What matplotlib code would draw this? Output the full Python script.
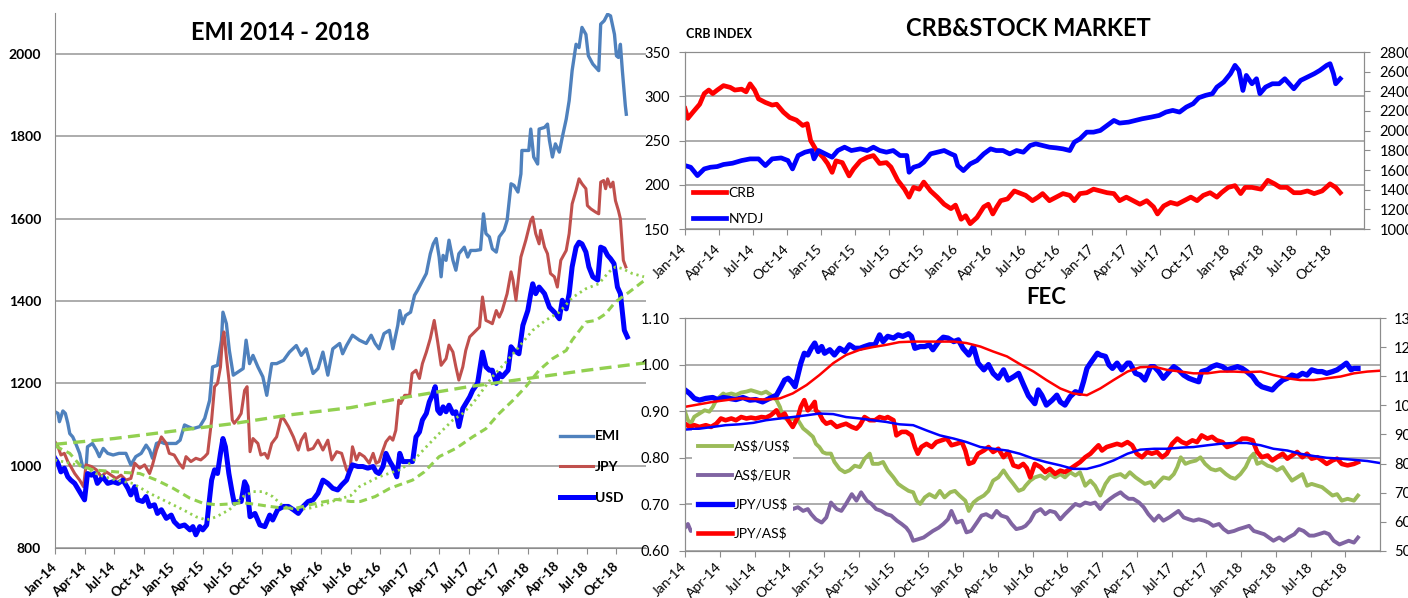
import matplotlib.pyplot as plt
from matplotlib.patches import Rectangle

plt.rcParams['font.family'] = ['Lato', 'DejaVu Sans']

# x values are months counted from Jan-14
tick_months = [0, 3, 6, 9, 12, 15, 18, 21, 24, 27, 30, 33, 36, 39, 42, 45, 48, 51, 54, 57]
tick_labels = ['Jan-14', 'Apr-14', 'Jul-14', 'Oct-14', 'Jan-15', 'Apr-15', 'Jul-15', 'Oct-15',
               'Jan-16', 'Apr-16', 'Jul-16', 'Oct-16', 'Jan-17', 'Apr-17', 'Jul-17', 'Oct-17',
               'Jan-18', 'Apr-18', 'Jul-18', 'Oct-18']

# ---- EMI 2014 - 2018 ----
emi = [(0, 1131), (0.3, 1127), (0.45, 1107), (0.8, 1133), (1.05, 1127), (1.3, 1103), (1.5, 1078),
       (1.8, 1070), (2.1, 1054), (2.5, 1030), (2.8, 998), (3.15, 994), (3.3, 1046), (3.8, 1054),
       (4.2, 1038), (4.5, 1022), (4.9, 1042), (5.35, 1030), (5.9, 1026), (6.5, 1030), (7.2, 1030),
       (7.7, 1002), (8.2, 1022), (8.75, 1030), (9.25, 1050), (9.6, 1038), (9.9, 1018), (10.3, 1054),
       (10.7, 1058), (11.1, 1054), (11.6, 1054), (12.3, 1054), (12.7, 1062), (13.15, 1099),
       (13.5, 1095), (14, 1090), (14.7, 1095), (15.2, 1115), (15.7, 1159), (16, 1240), (16.5, 1244),
       (16.9, 1305), (17.05, 1373), (17.4, 1345), (17.7, 1280), (18.1, 1220), (18.6, 1228),
       (19.1, 1236), (19.4, 1305), (19.75, 1248), (20.1, 1268), (20.6, 1240), (21.1, 1216),
       (21.5, 1171), (22, 1248), (22.5, 1248), (23.2, 1256), (23.8, 1276), (24.5, 1292), (25, 1268),
       (25.5, 1284), (26.2, 1224), (26.7, 1236), (27.2, 1276), (27.7, 1220), (28.2, 1284),
       (28.9, 1297), (29.2, 1272), (29.6, 1292), (30.2, 1317), (30.9, 1305), (31.6, 1297),
       (32.1, 1317), (32.5, 1297), (32.9, 1284), (33.4, 1321), (33.95, 1329), (34.3, 1284),
       (34.8, 1341), (35, 1377), (35.3, 1345), (35.6, 1365), (36.1, 1373), (36.5, 1414),
       (36.8, 1426), (37.15, 1442), (37.7, 1467), (38.1, 1515), (38.4, 1539), (38.7, 1552),
       (39, 1507), (39.2, 1459), (39.4, 1511), (39.7, 1499), (40, 1548), (40.4, 1499), (40.7, 1475),
       (41, 1515), (41.55, 1531), (41.9, 1507), (42.2, 1523), (42.7, 1523), (43.2, 1525),
       (43.5, 1612), (43.75, 1564), (44.1, 1556), (44.4, 1527), (44.8, 1519), (45.1, 1556),
       (45.6, 1572), (45.9, 1596), (46.3, 1685), (46.6, 1681), (47, 1665), (47.3, 1709),
       (47.4, 1766), (48.1, 1766), (48.3, 1818), (48.6, 1750), (49, 1733), (49.15, 1818),
       (49.7, 1822), (50, 1830), (50.2, 1790), (50.5, 1750), (50.8, 1782), (51.2, 1762),
       (51.5, 1798), (51.9, 1842), (52.2, 1887), (52.5, 1960), (52.9, 2024), (53.2, 2016),
       (53.5, 2065), (53.9, 2048), (54.15, 1996), (54.6, 1976), (55.2, 1960), (55.4, 2073),
       (55.75, 2081), (56.1, 2097), (56.4, 2093), (56.8, 2048), (57, 1996), (57.2, 1992),
       (57.4, 2024), (57.6, 1960), (57.9, 1875), (58, 1854)]

jpy = [(0, 1058), (0.3, 1046), (0.6, 1026), (0.95, 1030), (1.3, 1010), (1.6, 998), (2, 981),
       (2.5, 965), (2.9, 949), (3.15, 1002), (3.7, 998), (4.2, 990), (4.7, 973), (5.2, 985),
       (5.7, 977), (6.2, 969), (6.7, 977), (7.2, 965), (7.7, 969), (8.1, 1006), (8.6, 994),
       (9.1, 1002), (9.6, 981), (9.9, 1002), (10.3, 1038), (10.8, 1070), (11.3, 1054), (11.6, 1030),
       (12.1, 1026), (12.6, 1006), (13, 994), (13.3, 1022), (13.8, 1010), (14.3, 1018), (14.8, 1014),
       (15.2, 1022), (15.5, 1030), (15.9, 1111), (16.2, 1192), (16.5, 1200), (16.8, 1240),
       (17, 1309), (17.15, 1325), (17.4, 1264), (17.7, 1200), (18, 1111), (18.2, 1103),
       (18.6, 1115), (18.9, 1127), (19.25, 1183), (19.5, 1192), (19.8, 1034), (20.1, 1066),
       (20.6, 1054), (20.9, 1026), (21.3, 1030), (21.6, 1018), (22, 1054), (22.5, 1070), (23, 1119),
       (23.3, 1111), (23.7, 1095), (24.2, 1070), (24.7, 1038), (25, 1062), (25.4, 1078),
       (25.7, 1038), (26.2, 1042), (26.7, 1062), (27.2, 1038), (27.7, 1062), (28.1, 1014),
       (28.6, 1034), (29.1, 1030), (29.6, 990), (29.9, 981), (30.2, 1046), (30.6, 1014),
       (30.9, 1030), (31.4, 1022), (31.9, 1006), (32.3, 1030), (32.6, 1006), (32.9, 1010),
       (33.3, 1038), (33.6, 1058), (34, 1070), (34.3, 1062), (34.6, 1086), (34.9, 1159),
       (35.1, 1151), (35.5, 1171), (36, 1171), (36.25, 1224), (36.65, 1232), (37, 1212),
       (37.3, 1248), (37.7, 1276), (38.1, 1309), (38.5, 1353), (38.85, 1301), (39.2, 1244),
       (39.7, 1260), (40, 1293), (40.4, 1276), (40.7, 1240), (41, 1208), (41.4, 1240), (41.7, 1280),
       (42.1, 1313), (42.6, 1325), (43.1, 1337), (43.4, 1410), (43.75, 1353), (44.1, 1349),
       (44.4, 1345), (44.8, 1377), (45.1, 1361), (45.4, 1377), (45.9, 1418), (46.3, 1471),
       (46.5, 1451), (46.8, 1402), (47.3, 1507), (47.8, 1548), (48.3, 1596), (48.5, 1604),
       (48.8, 1564), (49.15, 1539), (49.3, 1572), (49.7, 1531), (50, 1515), (50.3, 1467),
       (50.7, 1459), (51, 1434), (51.35, 1499), (51.9, 1523), (52.2, 1564), (52.5, 1636),
       (52.9, 1669), (53.2, 1697), (53.5, 1685), (53.9, 1673), (54.05, 1632), (54.4, 1624),
       (54.9, 1616), (55.2, 1612), (55.4, 1689), (55.7, 1693), (55.9, 1673), (56.1, 1697),
       (56.4, 1677), (56.65, 1689), (56.9, 1644), (57.2, 1620), (57.4, 1600), (57.7, 1499),
       (57.95, 1483)]

usd = [(0, 1018), (0.3, 1006), (0.6, 985), (0.95, 994), (1.3, 973), (1.6, 965), (2, 957),
       (2.3, 945), (2.6, 933), (3, 917), (3.3, 981), (3.7, 977), (4, 981), (4.3, 957), (4.85, 973),
       (5.35, 957), (5.9, 961), (6.4, 957), (6.9, 965), (7.4, 945), (7.7, 929), (8.1, 949),
       (8.4, 917), (8.9, 913), (9.25, 925), (9.6, 901), (10.1, 905), (10.4, 884), (10.8, 893),
       (11.3, 872), (11.8, 880), (12.1, 864), (12.6, 852), (13.15, 856), (13.7, 844), (14, 852),
       (14.3, 832), (14.7, 852), (15, 844), (15.4, 856), (15.6, 901), (15.9, 965), (16.2, 990),
       (16.5, 981), (16.8, 1030), (17.05, 1066), (17.3, 1046), (17.65, 981), (18, 933), (18.2, 909),
       (18.6, 913), (18.9, 913), (19.25, 961), (19.5, 949), (19.8, 876), (20.3, 884), (20.8, 856),
       (21.3, 852), (21.8, 880), (22.1, 868), (22.6, 893), (23.2, 901), (23.7, 901), (24.2, 893),
       (24.7, 884), (25.2, 901), (25.7, 913), (26.2, 917), (26.7, 933), (27.2, 965), (27.7, 957),
       (28.2, 945), (28.7, 941), (29.1, 953), (29.6, 965), (29.9, 985), (30.2, 1002),
       (30.75, 998), (31.25, 998), (31.75, 994), (32.3, 998), (32.6, 985), (32.9, 981),
       (33.3, 998), (33.6, 1030), (34, 1010), (34.3, 998), (34.7, 973), (35, 1030), (35.3, 1010),
       (35.8, 1010), (36.3, 1010), (36.65, 1070), (37, 1082), (37.3, 1111), (37.7, 1127),
       (38, 1155), (38.3, 1171), (38.6, 1192), (38.85, 1135), (39.1, 1127), (39.4, 1143),
       (39.7, 1131), (40, 1147), (40.4, 1127), (40.7, 1131), (41, 1095), (41.4, 1139),
       (41.7, 1151), (42.1, 1167), (42.4, 1183), (42.9, 1200), (43.4, 1276), (43.75, 1240),
       (44.1, 1232), (44.4, 1232), (44.8, 1200), (45.1, 1224), (45.4, 1216), (46, 1232),
       (46.3, 1289), (46.6, 1280), (47.1, 1272), (47.5, 1341), (48, 1377), (48.3, 1418),
       (48.5, 1442), (48.8, 1418), (49.15, 1434), (49.7, 1418), (50.2, 1385), (50.7, 1373),
       (51.2, 1357), (51.5, 1402), (51.9, 1381), (52.2, 1418), (52.5, 1483), (52.9, 1531),
       (53.2, 1543), (53.5, 1539), (53.9, 1519), (54.2, 1483), (54.6, 1459), (55.1, 1451),
       (55.4, 1531), (55.75, 1527), (56.1, 1511), (56.4, 1503), (56.75, 1491), (57.1, 1434),
       (57.4, 1418), (57.8, 1329), (58.1, 1313)]

trend_long = [(0, 1052), (6, 1066), (12, 1084), (18, 1102), (24, 1124), (30, 1141), (36, 1168),
              (42, 1192), (48, 1212), (54, 1232), (60, 1250)]

trend_dash = [(0, 1048), (1.5, 1030), (2.5, 1002), (3.8, 990), (6.2, 985), (8.6, 981),
              (10.3, 965), (12, 945), (13.7, 921), (15, 909), (16.4, 905), (17.7, 907), (19.1, 910),
              (20.4, 906), (21.8, 901), (23.2, 897), (24.5, 897), (25.9, 905), (27.2, 912),
              (28.6, 918), (30, 913), (31, 913), (32.5, 925), (34, 945), (36.3, 965), (37.5, 985),
              (39, 1022), (40.7, 1042), (42.4, 1070), (43.75, 1090), (45.1, 1127), (46.5, 1159),
              (47.8, 1192), (49.15, 1232), (50.5, 1260), (51.9, 1280), (52.5, 1305), (53.9, 1349),
              (54.9, 1353), (55.9, 1369), (56.9, 1398), (58.3, 1422), (59.6, 1446), (60, 1452)]

trend_dot = [(0, 1014), (1.5, 1006), (2.8, 998), (4.5, 977), (6.2, 965), (7.9, 957), (9.6, 933),
             (11.3, 913), (13, 893), (14.3, 876), (15.4, 868), (16.4, 876), (17.7, 893), (19.1, 925),
             (20.1, 937), (21.1, 937), (22.1, 925), (23.2, 901), (24.5, 893), (25.9, 897),
             (27.2, 905), (28.6, 917), (30, 927), (30.9, 949), (32.9, 973), (35, 990), (36.3, 1010),
             (37.7, 1046), (39, 1078), (40.4, 1111), (41.4, 1127), (42.4, 1151), (43.4, 1183),
             (44.4, 1216), (45.8, 1252), (47.1, 1289), (48.5, 1329), (49.8, 1353), (51.2, 1373),
             (52.5, 1408), (53.9, 1430), (55.2, 1442), (56.25, 1471), (56.9, 1483), (57.6, 1479),
             (58.6, 1467), (59.8, 1459)]

# ---- CRB & STOCK MARKET ----
crb = [(0, 286), (0.25, 275), (0.7, 282), (1.3, 291), (1.7, 303), (2.1, 307), (2.45, 303),
       (2.85, 307), (3.4, 312), (4, 310), (4.4, 307), (5, 308), (5.4, 305), (5.75, 314), (6.15, 307),
       (6.5, 297), (7.1, 293), (7.7, 290), (8.1, 291), (8.7, 282), (9.25, 276), (9.85, 273),
       (10.4, 267), (10.8, 269), (11.1, 250), (11.6, 239), (12.2, 231), (12.6, 224), (13, 214),
       (13.35, 227), (13.9, 225), (14.5, 210), (14.9, 218), (15.5, 227), (16.1, 231), (16.65, 233),
       (17.2, 224), (17.8, 225), (18.2, 220), (18.8, 205), (19.4, 195), (19.8, 186), (20.2, 197),
       (20.7, 195), (21.1, 203), (21.7, 193), (22.3, 186), (22.9, 178), (23.5, 173), (23.9, 177),
       (24.4, 161), (24.8, 165), (25.2, 156), (25.8, 163), (26.4, 175), (26.8, 178), (27.2, 167),
       (27.55, 175), (27.9, 182), (28.5, 184), (29.1, 193), (29.5, 191), (30.1, 188), (30.7, 182),
       (31.2, 186), (31.6, 190), (32.2, 182), (32.8, 186), (33.4, 190), (34, 188), (34.4, 182),
       (34.9, 190), (35.5, 191), (36.1, 195), (36.7, 193), (37.3, 191), (37.9, 190), (38.4, 182),
       (39, 186), (39.6, 182), (40.2, 178), (40.8, 182), (41.4, 175), (41.75, 167), (42.3, 176),
       (42.9, 180), (43.5, 178), (44.1, 182), (44.7, 186), (45.25, 182), (45.8, 188), (46.4, 191),
       (47, 186), (47.4, 191), (48, 197), (48.6, 199), (49.1, 190), (49.5, 197), (50.1, 197),
       (50.9, 195), (51.5, 205), (52.1, 201), (52.6, 197), (53.2, 197), (53.8, 191), (54.4, 191),
       (55, 193), (55.6, 190), (56.3, 193), (57, 201), (57.5, 197), (57.9, 191)]

nydj = [(0, 1645), (0.5, 1628), (1.1, 1543), (1.7, 1611), (2.25, 1628), (2.85, 1635), (3.4, 1656),
        (4.2, 1669), (5, 1696), (5.75, 1713), (6.5, 1713), (7.1, 1645), (7.7, 1713), (8.5, 1723),
        (9.1, 1696), (9.5, 1611), (10, 1747), (10.6, 1781), (11.2, 1798), (11.4, 1713),
        (11.8, 1798), (12.4, 1764), (13, 1730), (13.5, 1798), (14.1, 1832), (14.7, 1798),
        (15.5, 1815), (16.1, 1798), (16.65, 1832), (17.2, 1798), (17.8, 1781), (18.4, 1798),
        (19, 1747), (19.6, 1747), (19.8, 1577), (20.2, 1628), (20.7, 1645), (21.1, 1679),
        (21.7, 1764), (22.3, 1781), (22.9, 1798), (23.5, 1764), (23.85, 1747), (24.1, 1645),
        (24.6, 1594), (25.2, 1662), (25.8, 1696), (26.4, 1764), (27, 1815), (27.5, 1798),
        (28.1, 1798), (28.7, 1764), (29.3, 1798), (29.9, 1781), (30.5, 1849), (31, 1866),
        (31.6, 1849), (32.2, 1832), (32.8, 1825), (33.4, 1815), (34, 1798), (34.4, 1883),
        (34.9, 1917), (35.5, 1985), (36.1, 1985), (36.7, 2002), (37.3, 2053), (37.9, 2104),
        (38.4, 2077), (39.2, 2087), (39.8, 2104), (40.4, 2121), (41.2, 2138), (41.9, 2155),
        (42.5, 2189), (43.1, 2206), (43.7, 2189), (44.3, 2240), (44.9, 2274), (45.4, 2335),
        (46, 2359), (46.6, 2376), (47, 2443), (47.6, 2494), (48.2, 2579), (48.6, 2664),
        (48.95, 2613), (49.3, 2409), (49.6, 2562), (50.1, 2477), (50.5, 2528), (50.8, 2376),
        (51.3, 2443), (51.9, 2477), (52.5, 2477), (53, 2528), (53.4, 2477), (53.8, 2426),
        (54.4, 2511), (55, 2545), (55.6, 2579), (56.1, 2613), (56.7, 2664), (57, 2681),
        (57.3, 2579), (57.5, 2477), (57.9, 2528)]

# ---- FEC ----
aud_usd = [(0, 0.899), (0.25, 0.881), (0.5, 0.873), (0.8, 0.888), (1.25, 0.895), (1.7, 0.902),
           (2.1, 0.899), (2.4, 0.909), (2.7, 0.924), (3, 0.931), (3.3, 0.938), (3.5, 0.935),
           (4, 0.938), (4.4, 0.935), (4.85, 0.94), (5.3, 0.942), (5.7, 0.945), (6.1, 0.942),
           (6.6, 0.938), (7, 0.942), (7.4, 0.935), (7.9, 0.924), (8.2, 0.909), (8.45, 0.888),
           (8.9, 0.881), (9.3, 0.884), (9.75, 0.881), (10.2, 0.863), (10.6, 0.855), (11.05, 0.845),
           (11.3, 0.83), (11.6, 0.823), (11.9, 0.812), (12.2, 0.809), (12.6, 0.809), (12.9, 0.791),
           (13.35, 0.776), (13.8, 0.769), (14.2, 0.773), (14.65, 0.783), (15.1, 0.78), (15.5, 0.798),
           (15.95, 0.809), (16.2, 0.787), (16.7, 0.787), (17.1, 0.791), (17.5, 0.773), (18, 0.758),
           (18.4, 0.744), (18.8, 0.737), (19.3, 0.729), (19.7, 0.726), (20, 0.708), (20.3, 0.701),
           (20.7, 0.715), (21.1, 0.722), (21.6, 0.715), (22, 0.729), (22.4, 0.715), (22.9, 0.726),
           (23.3, 0.729), (23.7, 0.719), (24.2, 0.708), (24.5, 0.686), (24.9, 0.704), (25.3, 0.712),
           (25.8, 0.719), (26.2, 0.729), (26.6, 0.751), (27.05, 0.758), (27.5, 0.773), (27.9, 0.758),
           (28.35, 0.744), (28.8, 0.729), (29.2, 0.733), (29.4, 0.74), (29.8, 0.751), (30.2, 0.758),
           (30.7, 0.762), (31.1, 0.755), (31.5, 0.765), (31.95, 0.758), (32.4, 0.765), (32.8, 0.758),
           (33.25, 0.769), (33.7, 0.762), (34.1, 0.769), (34.55, 0.74), (35, 0.751), (35.4, 0.74),
           (35.85, 0.719), (36.3, 0.744), (36.7, 0.758), (37.1, 0.762), (37.6, 0.765), (38, 0.758),
           (38.4, 0.769), (38.9, 0.758), (39.3, 0.751), (39.7, 0.744), (40.2, 0.748), (40.5, 0.737),
           (40.9, 0.748), (41.3, 0.758), (41.8, 0.755), (42.2, 0.765), (42.5, 0.78), (42.8, 0.801),
           (43.2, 0.787), (43.6, 0.791), (44.1, 0.794), (44.5, 0.801), (44.9, 0.787), (45.4, 0.776),
           (45.8, 0.773), (46.2, 0.776), (46.7, 0.765), (47.1, 0.758), (47.5, 0.755), (47.95, 0.765),
           (48.4, 0.78), (48.8, 0.801), (49.1, 0.809), (49.4, 0.787), (49.8, 0.791), (50.3, 0.783),
           (50.7, 0.78), (51.1, 0.773), (51.6, 0.78), (52, 0.765), (52.4, 0.751), (52.85, 0.758),
           (53.3, 0.765), (53.7, 0.74), (54.1, 0.744), (54.6, 0.74), (55, 0.737), (55.4, 0.729),
           (55.9, 0.719), (56.3, 0.722), (56.7, 0.708), (57.2, 0.712), (57.75, 0.708), (58.1, 0.719)]

aud_eur = [(0, 0.65), (0.25, 0.658), (0.5, 0.643), (2, 0.66), (4, 0.68), (6, 0.69), (8, 0.69),
           (9.3, 0.69), (9.75, 0.694), (10.2, 0.686), (10.6, 0.69), (10.9, 0.679), (11.3, 0.668),
           (11.8, 0.661), (12.2, 0.672), (12.6, 0.704), (13.1, 0.69), (13.5, 0.686), (13.9, 0.701),
           (14.4, 0.722), (14.8, 0.708), (15.2, 0.726), (15.7, 0.708), (16.1, 0.701), (16.5, 0.69),
           (16.95, 0.686), (17.4, 0.679), (17.8, 0.676), (18.3, 0.665), (18.7, 0.658), (19.1, 0.65),
           (19.4, 0.64), (19.7, 0.622), (20.1, 0.625), (20.6, 0.629), (21, 0.636), (21.4, 0.643),
           (21.9, 0.65), (22.3, 0.658), (22.7, 0.668), (23, 0.686), (23.45, 0.661), (23.9, 0.665),
           (24.3, 0.64), (24.7, 0.643), (25.2, 0.661), (25.6, 0.676), (26, 0.679), (26.5, 0.672),
           (26.9, 0.686), (27.3, 0.676), (27.8, 0.672), (28.2, 0.658), (28.6, 0.647), (29.1, 0.65),
           (29.4, 0.654), (29.8, 0.665), (30.2, 0.683), (30.7, 0.69), (31.1, 0.679), (31.5, 0.686),
           (31.95, 0.683), (32.4, 0.668), (32.8, 0.679), (33.25, 0.69), (33.7, 0.701), (34.1, 0.697),
           (34.55, 0.704), (35, 0.701), (35.4, 0.704), (35.85, 0.69), (36.3, 0.704), (36.7, 0.712),
           (37.1, 0.719), (37.6, 0.726), (37.9, 0.719), (38.3, 0.712), (38.7, 0.712), (39.2, 0.704),
           (39.6, 0.694), (40, 0.679), (40.5, 0.665), (40.9, 0.676), (41.3, 0.665), (41.8, 0.672),
           (42.2, 0.679), (42.6, 0.686), (43.05, 0.672), (43.5, 0.668), (43.9, 0.665), (44.35, 0.668),
           (44.8, 0.665), (45.2, 0.661), (45.6, 0.654), (46.1, 0.658), (46.5, 0.647), (46.9, 0.64),
           (47.4, 0.643), (47.8, 0.647), (48.2, 0.65), (48.7, 0.654), (49.1, 0.643), (49.5, 0.64),
           (50, 0.636), (50.4, 0.629), (50.8, 0.622), (51.3, 0.629), (51.7, 0.622), (52.1, 0.629),
           (52.6, 0.636), (53, 0.647), (53.4, 0.643), (53.9, 0.633), (54.3, 0.633), (54.7, 0.636),
           (55.2, 0.64), (55.6, 0.636), (56, 0.622), (56.5, 0.614), (56.9, 0.618), (57.3, 0.622),
           (57.75, 0.618), (58.1, 0.629)]

jpy_usd = [(0, 105.3), (0.4, 104.1), (0.8, 102.4), (1.25, 101.8), (1.8, 102.4), (2.4, 102.7),
           (2.8, 102), (3.3, 102.7), (3.8, 102.4), (4.4, 102), (5, 102.7), (5.6, 101.8), (6.1, 102),
           (6.7, 101.2), (7.3, 102.4), (7.9, 103.5), (8.3, 106.4), (8.6, 108.7), (8.9, 109.3),
           (9.2, 108.1), (9.5, 106.4), (9.75, 110.4), (10, 114.5), (10.3, 117.9), (10.6, 117.3),
           (10.9, 119.6), (11.2, 121.4), (11.5, 118.5), (11.8, 120.2), (12.05, 117.9), (12.5, 119.1),
           (12.9, 117.3), (13.35, 119.6), (13.8, 118.5), (14.2, 120.8), (14.65, 119.6), (15.1, 119.6),
           (15.5, 120.2), (15.95, 120.8), (16.4, 120.8), (16.8, 124.2), (17.1, 121.9), (17.5, 123.7),
           (18, 123.1), (18.4, 124.2), (18.8, 123.7), (19.3, 124.6), (19.55, 123.7), (19.85, 119.6),
           (20.3, 120.2), (20.7, 120.2), (21.1, 120.8), (21.4, 119.1), (21.9, 121.9), (22.3, 123.4),
           (22.7, 123.1), (23.2, 121.9), (23.6, 122.5), (24, 119.6), (24.5, 117.3), (24.9, 120.2),
           (25.3, 114.5), (25.8, 112.2), (26.2, 114), (26.6, 111), (27.05, 109.3), (27.5, 112.2),
           (27.9, 108.7), (28.4, 109.9), (28.8, 111), (29.2, 107.3), (29.65, 103.3), (30.2, 100.6),
           (30.5, 105.3), (30.8, 103.5), (31.2, 100.1), (31.7, 101.8), (32.1, 103.5), (32.4, 101.2),
           (32.8, 100.1), (33.25, 103), (33.7, 104.7), (34.1, 104.1), (34.4, 108.1), (34.7, 112.7),
           (35, 114.5), (35.3, 116.2), (35.6, 117.9), (35.85, 117.3), (36.3, 116.8), (36.6, 113.9),
           (36.9, 112.7), (37.3, 114.5), (37.7, 112.2), (38.2, 114.5), (38.4, 114.5), (38.9, 111),
           (39.3, 110.4), (39.7, 108.7), (40.2, 113.3), (40.5, 113.3), (40.9, 111.6), (41.3, 109.3),
           (41.8, 111.6), (42.2, 113.3), (42.6, 112.2), (43.05, 110.4), (43.5, 109.3), (43.9, 108.7),
           (44.35, 108.1), (44.6, 111.6), (45.1, 112.2), (45.5, 113.3), (45.9, 113.9), (46.4, 113.3),
           (46.8, 112.2), (47.2, 112.7), (47.7, 113.3), (48.1, 112.7), (48.5, 111.6), (49, 109.9),
           (49.4, 107.6), (49.8, 106.4), (50.3, 105.8), (50.7, 105.3), (51.1, 107), (51.6, 108.7),
           (52, 109.3), (52.4, 110.4), (52.85, 109.9), (53.3, 111), (53.7, 110.4), (54.1, 112.2),
           (54.6, 111.6), (55, 111.6), (55.4, 111), (55.9, 111.6), (56.3, 112.2), (56.7, 113.3),
           (57.1, 114.5), (57.5, 112.2), (57.75, 112.7), (58.1, 112.7)]

jpy_aud = [(0, 93.7), (0.4, 92.6), (0.8, 93.2), (1.25, 92.6), (1.8, 93.2), (2.25, 92.6), (2.7, 93.7),
           (3.1, 95.5), (3.5, 94.9), (4, 95.5), (4.4, 94.9), (4.85, 96), (5.3, 95.5), (5.7, 95.8),
           (6.1, 95.5), (6.6, 96), (7, 95.8), (7.4, 96.6), (7.9, 98.3), (8.2, 96), (8.6, 97.2),
           (8.9, 94.9), (9.3, 92.6), (9.75, 96), (10, 99.5), (10.3, 101.8), (10.6, 98.3), (10.9, 99.5),
           (11.2, 101.2), (11.3, 98.3), (11.6, 97.2), (11.9, 94.9), (12.2, 93.7), (12.6, 94.3),
           (13.1, 92.6), (13.5, 93.2), (13.9, 93.7), (14.4, 92.6), (14.8, 92), (15.1, 93.2), (15.5, 96),
           (15.95, 94.9), (16.4, 94.9), (16.8, 96), (17.25, 95.5), (17.5, 96), (18, 94.9), (18.25, 89.7),
           (18.7, 90.9), (19.1, 90.9), (19.55, 89.7), (19.85, 85.7), (20.1, 83.4), (20.4, 85.7),
           (20.85, 86.8), (21.3, 85.7), (21.7, 87.4), (22.15, 88), (22.6, 88.6), (23, 86.3),
           (23.45, 86.8), (23.9, 87.4), (24.2, 84.5), (24.5, 79.9), (24.9, 80.5), (25.3, 83.4),
           (25.8, 84.5), (26.2, 85.7), (26.6, 84), (27.05, 85.1), (27.5, 82.2), (27.9, 84), (28.35, 79.4),
           (28.8, 78.8), (29.2, 79.9), (29.5, 78.5), (29.8, 75.3), (30.2, 79.9), (30.7, 78.8),
           (31.1, 77.1), (31.5, 78.2), (31.95, 76.5), (32.4, 77.6), (32.8, 77.1), (33.25, 78.2),
           (33.7, 79.4), (34.1, 80.5), (34.55, 82.2), (35, 83.4), (35.4, 85.1), (35.7, 86.3), (36, 84.5),
           (36.4, 85.7), (36.9, 86.3), (37.3, 86.8), (37.7, 86.3), (38.2, 87.4), (38.6, 86.3), (39, 83.4),
           (39.45, 82.2), (39.9, 84), (40.3, 83.4), (40.75, 84), (41.2, 82.2), (41.6, 83.4),
           (42.05, 86.8), (42.5, 88.6), (42.9, 87.4), (43.3, 86.8), (43.8, 88), (44.2, 87.4),
           (44.6, 89.7), (45.1, 88.6), (45.5, 89.2), (45.9, 88), (46.4, 87.4), (46.8, 85.7),
           (47.2, 86.3), (47.7, 87.4), (48.1, 88.6), (48.5, 88.6), (49, 88), (49.4, 84), (49.8, 82.2),
           (50.3, 82.8), (50.7, 81.1), (51.1, 82.2), (51.6, 83.4), (52, 81.7), (52.4, 82.8), (52.85, 84),
           (53.3, 82.2), (53.7, 83.4), (54.1, 81.7), (54.6, 82.2), (55, 81.1), (55.4, 79.9),
           (55.9, 81.1), (56.3, 81.7), (56.7, 79.9), (57.2, 79.4), (57.75, 79.9), (58.1, 80.5)]

# moving averages (drawn thin, colours swapped in the original)
jpy_usd_ma = [(0, 99.5), (2.4, 101.2), (4.7, 102.4), (7, 102), (8.2, 102.4), (9.3, 104.1),
              (10.5, 107), (11.6, 110.4), (12.8, 114.5), (13.9, 117.3), (15.1, 119.1), (16.2, 120),
              (17.4, 120.8), (18.5, 121.7), (19.7, 121.9), (22, 121.9), (23.2, 121.9), (24.3, 121.4),
              (25.5, 120.2), (26.6, 118.5), (27.8, 116.8), (28.9, 114.2), (30.1, 111.6), (31.2, 108.7),
              (32.4, 105.8), (33.5, 104.1), (34.7, 103.5), (35.85, 105.8), (37, 108.7), (38.2, 111.6),
              (39.3, 113.1), (40.5, 113.3), (41.6, 112.2), (42.8, 111.6), (43.9, 111), (45.1, 111),
              (46.2, 111.6), (47.4, 111.6), (48.5, 111.4), (49.7, 111.6), (50.8, 110.4), (52, 109.3),
              (53.1, 108.7), (54.3, 108.7), (55.4, 109.3), (56.6, 109.9), (57.75, 111), (58.9, 111.6),
              (60, 111.9)]

jpy_aud_ma = [(0, 91.7), (1.25, 92), (2.4, 92.6), (3.5, 93.2), (4.7, 93.5), (5.9, 94), (7, 94.9),
              (8.2, 95.5), (9.3, 96), (10.5, 96.6), (11.6, 97.2), (12.8, 97), (13.9, 96), (15.1, 95.5),
              (16.2, 94.9), (17.4, 94.3), (18.5, 93.5), (19.7, 93.2), (20.85, 91.4), (22, 89.7),
              (23.2, 88.6), (24.3, 87.4), (25.5, 85.7), (26.6, 85.1), (27.8, 84.5), (28.9, 83.4),
              (30.1, 81.7), (31.2, 80.5), (32.4, 79.4), (33.5, 78.2), (34.7, 78.2), (35.85, 79.4),
              (37, 81.1), (38.2, 83.4), (39.3, 84.8), (40.5, 85.1), (41.6, 85.1), (42.8, 85.5),
              (43.9, 85.7), (45.1, 86.3), (46.2, 86.8), (47.4, 87.1), (48.5, 87.1), (49.7, 86.3),
              (50.8, 85.1), (52, 84.5), (53.1, 83.4), (54.3, 82.6), (55.4, 82), (56.6, 81.7),
              (57.75, 81.3), (58.9, 80.9), (60, 80.2)]


def xy(pairs):
    return [p[0] for p in pairs], [p[1] for p in pairs]


W, H = 1408, 598


def box(x0, y0, x1, y1):
    return [x0 / W, 1 - y1 / H, (x1 - x0) / W, (y1 - y0) / H]


GRID = '#A6A6A6'
SPINE = '#8C8C8C'
GREEN = '#92D050'

fig = plt.figure(figsize=(W / 100, H / 100), dpi=100)

# ---------- left: EMI ----------
ax = fig.add_axes(box(55, 13, 646, 548))
l1, = ax.plot(*xy(emi), color='#4F81BD', lw=2.4, solid_joinstyle='round')
l2, = ax.plot(*xy(jpy), color='#C0504D', lw=2.2, solid_joinstyle='round')
l3, = ax.plot(*xy(usd), color='#0000FF', lw=3.6, solid_joinstyle='round')
ax.plot(*xy(trend_long), color=GREEN, lw=2.4, dashes=(3.6, 1.9))
ax.plot(*xy(trend_dash), color=GREEN, lw=2.2, dashes=(2.6, 1.6))
ax.plot(*xy(trend_dot), color=GREEN, lw=2.0, dashes=(0.8, 1.4))
ax.set_xlim(0, 60)
ax.set_ylim(800, 2100)
ax.set_yticks([800, 1000, 1200, 1400, 1600, 1800, 2000])
ax.grid(axis='y', color=GRID, lw=1.3)
ax.set_axisbelow(True)
for s in ['top', 'right']:
    ax.spines[s].set_visible(False)
for s in ['left', 'bottom']:
    ax.spines[s].set_color(SPINE)
ax.set_xticks(tick_months, tick_labels, rotation=45, ha='right', va='center',
              rotation_mode='anchor', fontweight='bold')
ax.tick_params(axis='y', length=0, pad=10, labelsize=10)
ax.tick_params(axis='x', length=4, color=SPINE, pad=8, labelsize=9.5)
for t in ax.get_yticklabels():
    t.set_fontweight('bold')
ax.legend([l1, l2, l3], ['EMI', 'JPY', 'USD'], loc='center left', bbox_to_anchor=(0.854, 0.151),
          frameon=False, borderpad=0, borderaxespad=0, handlelength=2.4, handletextpad=0.15,
          labelspacing=1.35, prop={'weight': 'bold', 'size': 10})
fig.text(280 / W, 1 - 32 / H, 'EMI 2014 - 2018', ha='center', va='center',
         fontsize=17, fontweight='bold')

# ---------- top right: CRB & stock market ----------
bx = fig.add_axes(box(685, 52, 1364, 229))
bxr = bx.twinx()
c1, = bx.plot(*xy(crb), color='#FF0000', lw=3.4, solid_joinstyle='round')
c2, = bxr.plot(*xy(nydj), color='#0000FF', lw=3.4, solid_joinstyle='round')
bx.set_xlim(0, 60)
bx.set_ylim(150, 350)
bx.set_yticks([150, 200, 250, 300, 350])
bxr.set_ylim(1000, 2800)
bxr.set_yticks([1000, 1200, 1400, 1600, 1800, 2000, 2200, 2400, 2600, 2800])
bx.grid(axis='y', color=GRID, lw=1.3)
bx.set_axisbelow(True)
for a in (bx, bxr):
    for s in a.spines.values():
        s.set_color(SPINE)
bx.set_xticks(tick_months, tick_labels, rotation=45, ha='right', va='center', rotation_mode='anchor')
bx.tick_params(axis='x', length=4, color=SPINE, pad=9, labelsize=10)
bx.tick_params(axis='y', length=4, color=SPINE, pad=7, labelsize=10.5)
bxr.tick_params(axis='y', length=4, color=SPINE, pad=7, labelsize=10.5)
bxr.legend([c1, c2], ['CRB', 'NYDJ'], loc='center left', bbox_to_anchor=(0.012, 0.13),
           frameon=False, borderpad=0, borderaxespad=0, handlelength=2.4, handletextpad=0.15,
           labelspacing=1.0, fontsize=10)
fig.text(1028 / W, 1 - 28 / H, 'CRB&STOCK MARKET', ha='center', va='center',
         fontsize=17, fontweight='bold')
fig.text(686 / W, 1 - 34 / H, 'CRB INDEX', ha='left', va='center', fontsize=9, fontweight='bold')

# ---------- bottom right: FEC ----------
cx = fig.add_axes(box(685, 318, 1380, 551))
cxr = cx.twinx()
f1, = cx.plot(*xy(aud_usd), color='#9BBB59', lw=2.8, solid_joinstyle='round')
f2, = cx.plot(*xy(aud_eur), color='#8064A2', lw=2.8, solid_joinstyle='round')
f3, = cxr.plot(*xy(jpy_usd), color='#0000FF', lw=3.8, solid_joinstyle='round')
f4, = cxr.plot(*xy(jpy_aud), color='#FF0000', lw=3.3, solid_joinstyle='round')
cxr.plot(*xy(jpy_usd_ma), color='#FF0000', lw=1.8)
cxr.plot(*xy(jpy_aud_ma), color='#0000FF', lw=1.8)
cx.set_xlim(0, 60)
cx.set_ylim(0.6, 1.1)
cx.set_yticks([0.6, 0.7, 0.8, 0.9, 1.0, 1.1], ['0.60', '0.70', '0.80', '0.90', '1.00', '1.10'])
cxr.set_ylim(50, 130)
cxr.set_yticks([50, 60, 70, 80, 90, 100, 110, 120, 130])
cx.grid(axis='y', color=GRID, lw=1.3)
cx.set_axisbelow(True)
for a in (cx, cxr):
    for s in a.spines.values():
        s.set_color(SPINE)
cx.set_xticks(tick_months, tick_labels, rotation=45, ha='right', va='center', rotation_mode='anchor')
cx.tick_params(axis='x', length=4, color=SPINE, pad=6, labelsize=10)
cx.tick_params(axis='y', length=4, color=SPINE, pad=7, labelsize=10.5)
cxr.tick_params(axis='y', length=4, color=SPINE, pad=6, labelsize=10.5)
cxr.add_patch(Rectangle((0.010, 0.021), 0.145, 0.498, transform=cxr.transAxes,
                        facecolor='white', edgecolor='none', zorder=3))
cxr.legend([f1, f2, f3, f4], ['AS\\$/US\\$', 'AS\\$/EUR', 'JPY/US\\$', 'JPY/AS\\$'],
           loc='center left', bbox_to_anchor=(0.019, 0.262), frameon=False, borderpad=0,
           borderaxespad=0, handlelength=2.4, handletextpad=0.15, labelspacing=1.2, fontsize=10)
fig.text(1046 / W, 1 - 298 / H, 'FEC', ha='center', va='center', fontsize=16, fontweight='bold')

fig.savefig('out.png', dpi=100)
